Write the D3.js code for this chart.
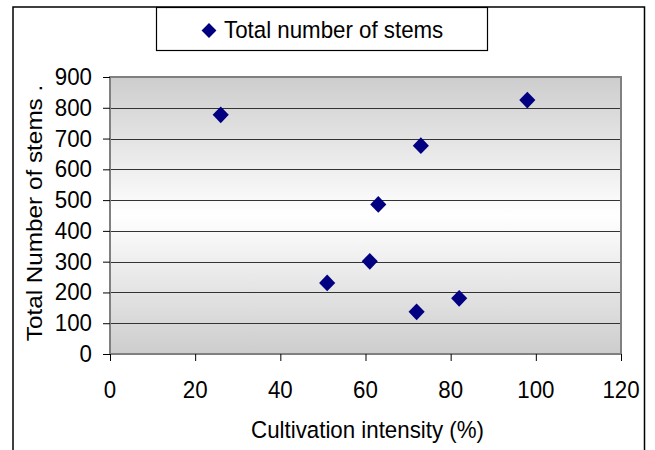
<!DOCTYPE html>
<html>
<head>
<meta charset="utf-8">
<script src="https://cdn.jsdelivr.net/npm/d3@7"></script>
<style>
  html, body { margin: 0; padding: 0; background: #fff; }
  svg { display: block; }
  text { font-family: "Liberation Sans", Arial, sans-serif; fill: #000; }
</style>
</head>
<body>
<svg id="chart" width="655" height="450"></svg>
<script>
// ---- data ----
const cultivationIntensity = [26, 51, 61, 63, 72, 73, 82, 98];
const totalStems = [777, 231, 301, 486, 137, 677, 181, 825];
const xTicks = [0, 20, 40, 60, 80, 100, 120];
const yTicks = [0, 100, 200, 300, 400, 500, 600, 700, 800, 900];
const seriesName = "Total number of stems";
const xTitle = "Cultivation intensity (%)";
const yTitle = "Total Number of stems .";

const svg = d3.select("#chart");
const W = 655, H = 450;
const plot = { left: 110, right: 621, top: 77, bottom: 354 };
const SY = 1.09;      // slight vertical stretch of glyphs in the reference
const FS = 22.3;

const x = d3.scaleLinear().domain([0, 120]).range([plot.left, plot.right]);
const y = d3.scaleLinear().domain([0, 900]).range([plot.bottom, plot.top]);

function stext(g, px, py, str, anchor) {
  return g.append("text")
    .attr("transform", `translate(${px},${py}) scale(1,${SY})`)
    .attr("text-anchor", anchor || "start")
    .attr("font-size", FS)
    .text(str);
}

// outer chart border
svg.append("rect")
  .attr("x", 13).attr("y", 7)
  .attr("width", 644.5 - 13).attr("height", H + 20)
  .attr("fill", "#fff").attr("stroke", "#000").attr("stroke-width", 1.5);

// plot background gradient
const defs = svg.append("defs");
const grad = defs.append("linearGradient").attr("id", "bg")
  .attr("x1", 0).attr("y1", 0).attr("x2", 0).attr("y2", 1);
grad.append("stop").attr("offset", "0%").attr("stop-color", "#cdcdcd");
grad.append("stop").attr("offset", "50%").attr("stop-color", "#ffffff");
grad.append("stop").attr("offset", "100%").attr("stop-color", "#cdcdcd");

svg.append("rect")
  .attr("x", plot.left).attr("y", plot.top)
  .attr("width", plot.right - plot.left).attr("height", plot.bottom - plot.top)
  .attr("fill", "url(#bg)");

// gridlines
svg.append("g").selectAll("line").data(yTicks).join("line")
  .attr("x1", plot.left).attr("x2", plot.right)
  .attr("y1", d => Math.round(y(d)) + 0.5).attr("y2", d => Math.round(y(d)) + 0.5)
  .attr("stroke", "#333").attr("stroke-width", 1.2);

// plot frame
svg.append("rect")
  .attr("x", plot.left).attr("y", plot.top)
  .attr("width", plot.right - plot.left).attr("height", plot.bottom - plot.top)
  .attr("fill", "none").attr("stroke", "#808080").attr("stroke-width", 2);

// axes (tick marks from d3 axes; labels drawn with the same scales)
const gy = svg.append("g").attr("transform", `translate(${plot.left},0)`)
  .call(d3.axisLeft(y).tickValues(yTicks).tickSize(7).tickFormat(""));
gy.select(".domain").remove();
gy.selectAll(".tick line").attr("stroke", "#000");
const gyl = svg.append("g");
yTicks.forEach(t => stext(gyl, 92, y(t) + 8, d3.format("d")(t), "end"));

const gx = svg.append("g").attr("transform", `translate(0,${plot.bottom})`)
  .call(d3.axisBottom(x).tickValues(xTicks).tickSize(7).tickFormat(""));
gx.select(".domain").remove();
gx.selectAll(".tick line").attr("stroke", "#000");
const gxl = svg.append("g");
xTicks.forEach(t => stext(gxl, x(t), 397.5, d3.format("d")(t), "middle"));

// points (diamonds)
const diamond = d3.symbol().type(d3.symbolSquare).size(130);
svg.append("g").selectAll("path")
  .data(cultivationIntensity.map((c, i) => ({ x: c, y: totalStems[i] })))
  .join("path")
  .attr("d", diamond)
  .attr("transform", d => `translate(${x(d.x)},${y(d.y)}) scale(1,1.04) rotate(45)`)
  .attr("fill", "#000080");

// axis titles
stext(svg, (plot.left + plot.right) / 2 + 2, 438, xTitle, "middle");

svg.append("text")
  .attr("transform", `translate(42,213) scale(1,${SY}) rotate(-90)`)
  .attr("text-anchor", "middle").attr("font-size", FS)
  .text(yTitle);

// legend
const lg = svg.append("g");
lg.append("rect")
  .attr("x", 156.5).attr("y", 7.5).attr("width", 331).attr("height", 43)
  .attr("fill", "#fff").attr("stroke", "#000").attr("stroke-width", 1.2);
lg.append("path")
  .attr("d", d3.symbol().type(d3.symbolSquare).size(110))
  .attr("transform", "translate(209,30.5) rotate(45)")
  .attr("fill", "#000080");
stext(lg, 224, 37.5, seriesName, "start");
</script>
</body>
</html>
